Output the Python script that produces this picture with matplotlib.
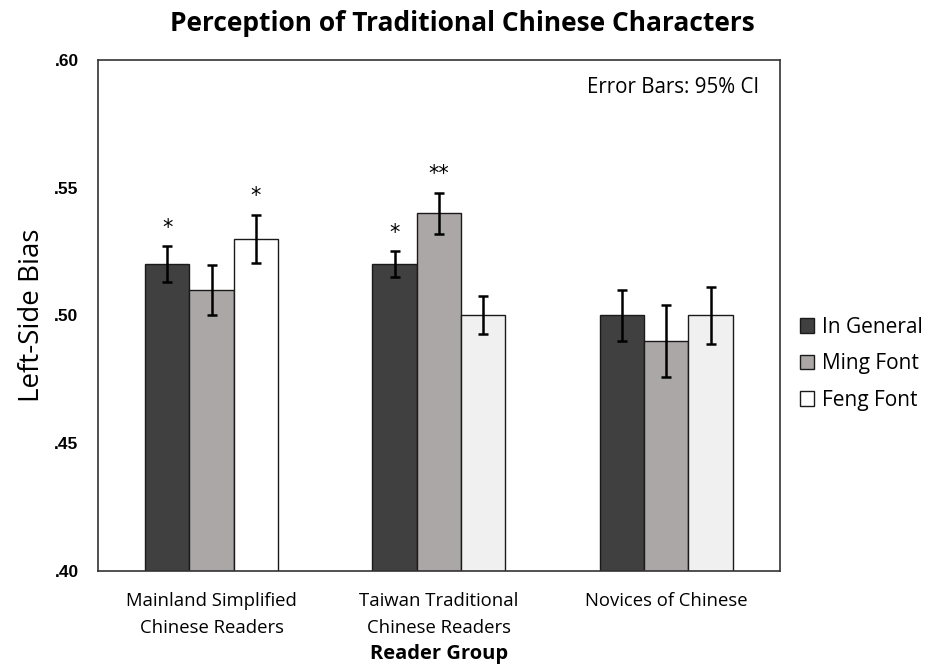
import numpy as np
import matplotlib
matplotlib.use("Agg")
import matplotlib.pyplot as plt
from matplotlib.ticker import FuncFormatter

plt.rcParams['font.family'] = ['Open Sans', 'DejaVu Sans']

groups = ["Mainland Simplified\nChinese Readers",
          "Taiwan Traditional\nChinese Readers",
          "Novices of Chinese"]
series = ["In General", "Ming Font", "Feng Font"]

general = [0.520, 0.520, 0.500]
ming = [0.510, 0.540, 0.490]
feng = [0.530, 0.500, 0.500]

general_ci = [0.007, 0.005, 0.010]
ming_ci = [0.0098, 0.008, 0.014]
feng_ci = [0.0094, 0.0074, 0.0112]

# significance stars: (group, series index, label)
stars = [(0, 0, "*"), (0, 2, "*"), (1, 0, "*"), (1, 1, "**")]

colors = ["#404040", "#aba7a6", "#f0f0f0"]

fig = plt.figure(figsize=(9.33, 6.66), dpi=100)
ax = fig.add_axes([0.105, 0.143, 0.731, 0.767])

x = np.arange(len(groups))
w = 0.195
vals = [general, ming, feng]
errs = [general_ci, ming_ci, feng_ci]
bars = []
for i, (v, e) in enumerate(zip(vals, errs)):
    b = ax.bar(x + (i - 1) * w, v, w, color=colors[i], edgecolor="#1a1a1a",
               linewidth=1.0, label=series[i], zorder=2)
    ax.errorbar(x + (i - 1) * w, v, yerr=e, fmt="none", ecolor="black",
                elinewidth=1.8, capsize=3.5, capthick=1.8, zorder=3)
    bars.append(b)

# first group's Feng bar is plain white
bars[2][0].set_facecolor("white")

for g, s, lab in stars:
    top = vals[s][g] + errs[s][g]
    ax.annotate(lab, (x[g] + (s - 1) * w, top), xytext=(0, 6),
                textcoords="offset points", ha="center", va="bottom",
                fontsize=15, family=["DejaVu Sans"])

ax.set_xlim(-0.5, 2.5)
ax.set_ylim(0.40, 0.60)
ax.set_yticks([0.40, 0.45, 0.50, 0.55, 0.60])
ax.yaxis.set_major_formatter(FuncFormatter(lambda v, p: ("%.2f" % v)[1:]))
for t in ax.get_yticklabels():
    t.set_fontweight("bold")
    t.set_family(["Liberation Sans"])
    t.set_fontsize(12.5)
ax.set_xticks(x)
ax.set_xticklabels(groups, fontsize=13.3, linespacing=1.65)
ax.tick_params(axis="x", length=0, pad=15)
ax.tick_params(axis="y", length=0, pad=14)

for sp in ax.spines.values():
    sp.set_color("#333333")
    sp.set_linewidth(1.2)

ax.set_xlabel("Reader Group", fontsize=14.5, fontweight="bold", labelpad=5)
ax.set_ylabel("Left-Side Bias", fontsize=20, labelpad=6)
fig.suptitle("Perception of Traditional Chinese Characters", fontsize=19,
             fontweight="bold", x=0.496, y=0.985)

ax.text(0.97, 0.947, "Error Bars: 95% CI", transform=ax.transAxes,
        ha="right", va="center", fontsize=14.8)

ax.legend(loc="center left", bbox_to_anchor=(1.0, 0.405), frameon=False,
          fontsize=15, handlelength=0.7, handleheight=0.7,
          handletextpad=0.35, labelspacing=0.75, borderaxespad=0.55)

fig.savefig("out.png", dpi=100)
